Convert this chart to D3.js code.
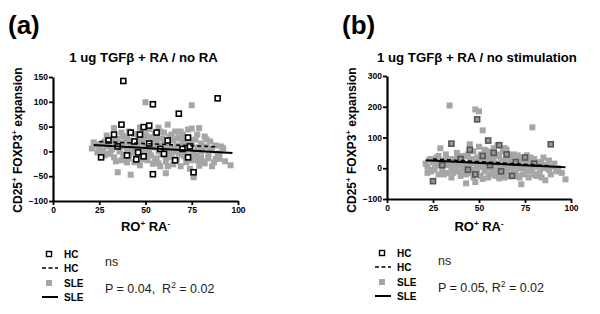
<!DOCTYPE html>
<html>
<head>
<meta charset="utf-8">
<script src="https://cdn.jsdelivr.net/npm/d3@7"></script>
<style>
  body { margin: 0; background: #fff; }
  text { font-family: "Liberation Sans", Arial, sans-serif; }
</style>
</head>
<body>
<svg id="chart" width="600" height="314"></svg>
<script>
// panel (a): 1 ug TGFb + RA / no RA
const hcA = [[38,142],[54,95],[89,107],[68,76],[37,54],[33,34],[26,-12],[49,49],[52,52],[56,38],
  [47,34],[42,38],[73,28],[74,10],[73,-12],[76,-42],[54,-46],[49,-10],[52,16],[40,-8],
  [45,-16],[66,-18],[44,20],[58,5],[62,22],[30,22],[70,5],[46,-2],[60,-5],[35,10]]
const sleA = [[21,6],[22,18],[23,12],[24,-2],[25,8],[26,15],[27,2],[28,-8],[29,32],[29,10],
  [30,-5],[31,20],[32,4],[33,47],[33,-12],[34,14],[35,-42],[35,25],[36,0],[37,-18],[37,10],
  [38,30],[39,-6],[39,18],[40,5],[41,40],[41,-14],[42,-47],[42,22],[43,8],[43,-3],[44,35],
  [44,-22],[45,12],[45,0],[46,28],[46,-10],[47,18],[47,-28],[48,4],[48,42],[49,-4],[49,24],
  [50,99],[50,10],[51,-18],[51,30],[52,2],[52,45],[53,-8],[53,16],[54,96],[54,-25],[55,8],
  [55,36],[56,-14],[56,20],[57,0],[57,48],[58,-30],[58,12],[59,26],[59,-6],[60,4],[60,38],
  [61,-44],[61,-20],[62,54],[62,14],[63,-2],[63,30],[64,-12],[64,6],[65,22],[65,-26],[66,40],
  [66,0],[67,12],[67,-16],[68,28],[68,-4],[69,8],[69,-30],[70,34],[70,16],[71,-10],[71,2],
  [72,20],[72,-22],[73,44],[73,6],[74,-8],[74,-35],[75,93],[75,46],[75,14],[76,-47],[76,-52],
  [76,-2],[77,24],[78,-18],[78,8],[79,47],[79,-29],[80,-12],[80,16],[81,4],[82,-24],[82,30],
  [83,10],[84,-6],[85,20],[86,-30],[86,2],[88,-15],[88,12],[90,-15],[90,-4],[92,6],[93,-20],[96,-28],
  [24,14],[26,-6],[28,20],[30,12],[31,-2],[32,26],[34,-20],[36,16],[37,38],[38,-10],[40,28],
  [40,-22],[42,10],[44,2],[46,16],[47,48],[48,-16],[50,-8],[50,34],[51,6],[53,28],[54,12],
  [55,-20],[56,30],[57,-24],[58,40],[59,2],[60,18],[61,-10],[62,-30],[63,10],[64,34],[65,0],
  [66,-18],[67,26],[68,10],[69,40],[70,-6],[71,24],[72,-12],[74,22],[75,-18],[77,-8],[78,34],
  [80,0],[81,-20],[83,24],[84,-14],[85,6],[87,-22],[89,-8],[91,10]]
const hcFitA = [[25,20],[89,9]]
const sleFitA = [[22,13],[97,-3]]
const yTicksA = [-100, -50, 0, 50, 100, 150]

// panel (b): 1 ug TGFb + RA / no stimulation
const hcB = [[25,-42],[49,159],[55,90],[35,80],[61,75],[89,78],[45,60],[52,40],[40,30],[58,50],
  [65,45],[70,20],[30,10],[48,-20],[75,35],[62,-10],[80,15],[56,10],[44,-5],[68,-25]]
const sleB = [[21,15],[22,5],[23,28],[24,-10],[25,20],[26,0],[27,35],[28,-20],[29,65],[29,10],
  [30,-5],[31,25],[32,45],[33,-15],[34,204],[34,15],[35,-30],[36,30],[37,0],[38,50],[39,-10],
  [40,20],[41,5],[42,40],[43,-49],[43,-20],[44,10],[45,78],[45,30],[46,-5],[47,55],[47,15],
  [48,-45],[48,191],[49,0],[49,35],[50,185],[50,70],[51,-25],[51,20],[52,123],[52,5],[53,60],
  [53,-10],[54,40],[54,25],[55,-30],[55,10],[56,50],[57,0],[57,30],[58,-15],[58,65],[59,15],
  [60,75],[60,-5],[61,-33],[61,40],[62,20],[62,5],[63,55],[63,-20],[64,65],[64,10],[65,30],
  [65,-10],[66,0],[66,45],[67,20],[67,-25],[68,35],[68,5],[69,-5],[69,15],[70,25],[70,-15],
  [71,42],[71,0],[72,10],[72,-30],[73,-52],[73,20],[74,5],[75,30],[76,42],[76,-10],[77,15],
  [78,0],[79,133],[79,25],[80,-20],[81,10],[82,5],[83,-15],[84,20],[85,0],[86,-39],[87,10],
  [88,-5],[90,5],[92,-10],[97,-36],
  [22,-15],[24,30],[25,-5],[27,15],[28,40],[30,25],[31,-20],[32,10],[33,30],[35,0],[36,-15],
  [37,20],[38,10],[39,40],[40,-25],[41,25],[42,-5],[43,15],[44,45],[45,-15],[46,20],[47,-30],
  [48,30],[49,-12],[50,10],[51,45],[52,-35],[53,20],[54,0],[55,55],[56,-20],[57,15],[58,30],
  [59,-25],[60,45],[61,10],[62,-15],[63,25],[64,-30],[65,60],[66,15],[67,0],[68,-20],[69,45],
  [70,5],[71,-25],[72,35],[73,0],[74,-20],[75,10],[76,20],[77,-30],[78,35],[79,-10],[80,30],
  [81,-25],[82,20],[84,-30],[85,35],[86,10],[88,25],[89,-20],[91,15],[93,0],[95,-15]]
const hcFitB = [[25,30],[89,8]]
const sleFitB = [[21,26],[97,3]]
const yTicksB = [-100, 0, 100, 200, 300]

const xTicks = [0, 25, 50, 75, 100]

const svg = d3.select('#chart')

const panels = [
  {tag: '(a)', tagX: 8, title: '1 ug TGF\u03b2 + RA / no RA', left: 53, right: 238, top: 77, bottom: 201,
    yDomain: [-100, 150], yTicks: yTicksA, hc: hcA, sle: sleA, hcFit: hcFitA, sleFit: sleFitA,
    hcStyle: {fill: '#fff', stroke: '#000'}, legX: 49, legY: 254, statX: 105, p: '0.04,'},
  {tag: '(b)', tagX: 342, title: '1 ug TGF\u03b2 + RA / no stimulation', left: 387, right: 571, top: 76, bottom: 199,
    yDomain: [-100, 300], yTicks: yTicksB, hc: hcB, sle: sleB, hcFit: hcFitB, sleFit: sleFitB,
    hcStyle: {fill: '#999', stroke: '#555'}, legX: 382, legY: 253, statX: 438, p: '0.05,'},
]

panels.forEach((p) => {
  const g = svg.append('g')
  const x = d3.scaleLinear().domain([0, 100]).range([p.left, p.right])
  const y = d3.scaleLinear().domain(p.yDomain).range([p.bottom, p.top])
  const cx = (p.left + p.right) / 2

  // 面板标记
  g.append('text').attr('x', p.tagX).attr('y', 34)
    .attr('font-size', 26).attr('font-weight', 'bold').text(p.tag)

  // 标题
  g.append('text').attr('x', cx - 2).attr('y', 62).attr('text-anchor', 'middle')
    .attr('font-size', 13.2).attr('font-weight', 'bold').text(p.title)

  // 坐标轴
  const ax = g.append('g').attr('transform', `translate(0,${p.bottom})`)
    .call(d3.axisBottom(x).tickValues(xTicks).tickSize(4).tickSizeOuter(0).tickPadding(2))
  const ay = g.append('g').attr('transform', `translate(${p.left},0)`)
    .call(d3.axisLeft(y).tickValues(p.yTicks).tickSize(4).tickSizeOuter(0).tickPadding(1))
  ;[ax, ay].forEach((a) => {
    a.select('.domain').attr('stroke-width', 2.2)
    a.selectAll('.tick line').attr('stroke-width', 1.8)
    a.selectAll('.tick text').attr('font-size', 8.5).attr('font-weight', 'bold')
      .attr('font-family', '"Liberation Sans", Arial, sans-serif')
  })

  // 轴标签
  const xl = g.append('text').attr('x', cx).attr('y', 231).attr('text-anchor', 'middle')
    .attr('font-size', 13).attr('font-weight', 'bold')
  xl.append('tspan').text('RO')
  xl.append('tspan').attr('dy', -5).attr('font-size', 8).text('+')
  xl.append('tspan').attr('dy', 5).text(' RA')
  xl.append('tspan').attr('dy', -5).attr('font-size', 8).text('-')

  const yl = g.append('text').attr('transform', `translate(${p.left - 31},140) rotate(-90)`)
    .attr('text-anchor', 'middle').attr('font-size', 12).attr('font-weight', 'bold')
  yl.append('tspan').text('CD25')
  yl.append('tspan').attr('dy', -5).attr('font-size', 8).text('+')
  yl.append('tspan').attr('dy', 5).text('  FOXP3')
  yl.append('tspan').attr('dy', -5).attr('font-size', 8).text('+')
  yl.append('tspan').attr('dy', 5).text(' expansion')

  // 点
  const s = 6
  g.append('g').selectAll('rect').data(p.sle).join('rect')
    .attr('x', (d) => x(d[0]) - s / 2).attr('y', (d) => y(d[1]) - s / 2)
    .attr('width', s).attr('height', s).attr('fill', '#a6a6a6')
  g.append('g').selectAll('rect').data(p.hc).join('rect')
    .attr('x', (d) => x(d[0]) - 2.5).attr('y', (d) => y(d[1]) - 2.5)
    .attr('width', 5).attr('height', 5)
    .attr('fill', p.hcStyle.fill).attr('stroke', p.hcStyle.stroke).attr('stroke-width', 1.6)

  // 回归线
  const line = d3.line().x((d) => x(d[0])).y((d) => y(d[1]))
  g.append('path').attr('d', line(p.hcFit)).attr('stroke', '#000').attr('stroke-width', 1.6)
    .attr('stroke-dasharray', '4 3').attr('fill', 'none')
  g.append('path').attr('d', line(p.sleFit)).attr('stroke', '#000').attr('stroke-width', 2)
    .attr('fill', 'none')

  // 图例
  const lg = g.append('g').attr('transform', `translate(${p.legX},${p.legY})`)
  lg.append('rect').attr('x', -2.5).attr('y', -2.5).attr('width', 5).attr('height', 5)
    .attr('fill', '#fff').attr('stroke', '#000').attr('stroke-width', 1.4)
  lg.append('line').attr('x1', -7).attr('x2', 9).attr('y1', 14).attr('y2', 14)
    .attr('stroke', '#000').attr('stroke-width', 1.6).attr('stroke-dasharray', '4 2.5')
  lg.append('rect').attr('x', -3).attr('y', 26).attr('width', 6).attr('height', 6).attr('fill', '#a6a6a6')
  lg.append('line').attr('x1', -7).attr('x2', 9).attr('y1', 43).attr('y2', 43)
    .attr('stroke', '#000').attr('stroke-width', 2)
  ;['HC', 'HC', 'SLE', 'SLE'].forEach((t, i) => {
    lg.append('text').attr('x', 15).attr('y', 4 + i * 14.3).attr('font-size', 10)
      .attr('font-weight', 'bold').text(t)
  })

  // 统计
  g.append('text').attr('x', p.statX).attr('y', p.legY + 12).attr('font-size', 12.5)
    .attr('fill', '#222').text('ns')
  const st = g.append('text').attr('x', p.statX).attr('y', p.legY + 39).attr('font-size', 12.5)
    .attr('fill', '#222')
  st.append('tspan').text(`P = ${p.p}${p.tag === '(a)' ? '\u00a0 ' : ' '}R`)
  st.append('tspan').attr('dy', -5).attr('font-size', 8.5).text('2')
  st.append('tspan').attr('dy', 5).text(' = 0.02')
})
</script>
</body>
</html>
